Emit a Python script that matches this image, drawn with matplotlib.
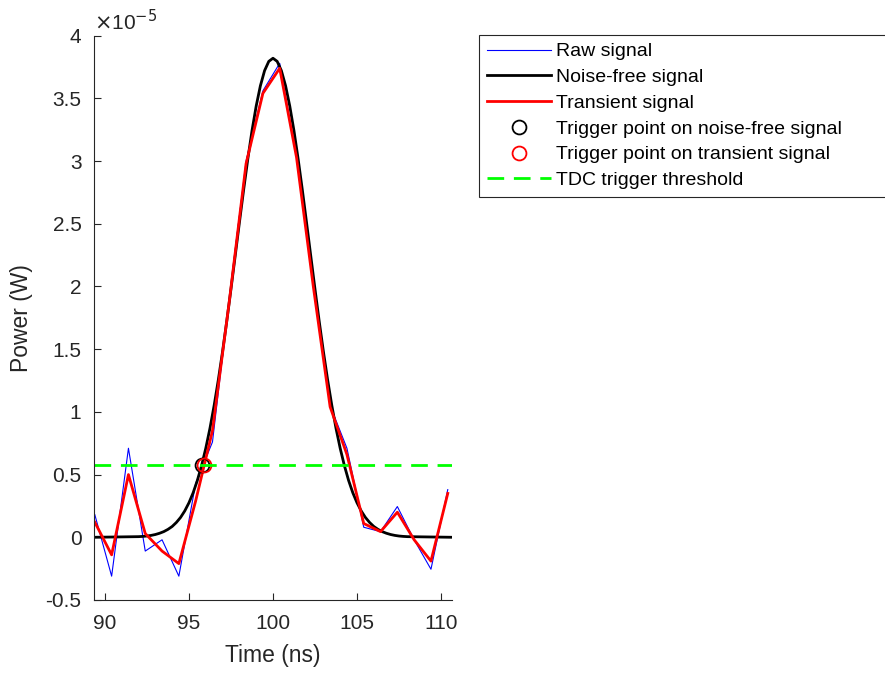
import numpy as np
import matplotlib.pyplot as plt
from matplotlib.ticker import FormatStrFormatter

plt.rcParams['font.family'] = ['Liberation Sans', 'DejaVu Sans']
plt.rcParams['axes.unicode_minus'] = False

# sampled pulse, power in units of 1e-5 W
sample_t = np.arange(89.4, 110.45, 1.0)
raw_signal = [0.18, -0.31, 0.71, -0.11, -0.02, -0.31, 0.43, 0.76, 1.90, 3.00, 3.56,
              3.78, 3.03, 2.00, 1.05, 0.71, 0.08, 0.045, 0.245, -0.02, -0.255, 0.38]
transient_signal = [0.12, -0.14, 0.50, 0.03, -0.11, -0.21, 0.29, 0.85, 1.88, 2.98, 3.54,
                    3.74, 3.03, 2.00, 1.04, 0.66, 0.11, 0.045, 0.20, -0.02, -0.19, 0.35]

# reference pulse on a finer grid
clean_t = np.concatenate([[89.35], np.arange(92.0, 108.01, 0.25), [110.65]])
clean_signal = [0.0,
                0.005, 0.007, 0.010, 0.015, 0.022, 0.032, 0.045, 0.063,
                0.086, 0.118, 0.158, 0.210, 0.275, 0.355, 0.453, 0.571,
                0.709, 0.869, 1.052, 1.257, 1.481, 1.723, 1.979, 2.242,
                2.507, 2.767, 3.014, 3.241, 3.438, 3.600, 3.721, 3.795,
                3.820,
                3.795, 3.721, 3.600, 3.438, 3.241, 3.014, 2.767, 2.507,
                2.242, 1.979, 1.723, 1.481, 1.257, 1.052, 0.869, 0.709,
                0.571, 0.453, 0.355, 0.275, 0.210, 0.158, 0.118, 0.086,
                0.063, 0.045, 0.032, 0.022, 0.015, 0.010, 0.007, 0.005,
                0.0]

threshold = 0.577
trigger_clean_t = 95.80
trigger_transient_t = 95.91

x_ticks = [90, 95, 100, 105, 110]
y_ticks = [-0.5, 0, 0.5, 1, 1.5, 2, 2.5, 3, 3.5, 4]

fig = plt.figure(figsize=(8.85, 6.73), dpi=100)
ax = fig.add_axes([0.1062, 0.1085, 0.4045, 0.8385])

ax.plot(sample_t, raw_signal, color='#0000ff', lw=0.8, label='Raw signal')
ax.plot(clean_t, clean_signal, color='black', lw=2.0, label='Noise-free signal')
ax.plot(sample_t, transient_signal, color='#ff0000', lw=2.0, label='Transient signal')
ax.plot([trigger_clean_t], [threshold], 'o', mfc='none', mec='black', ms=10, mew=1.3,
        label='Trigger point on noise-free signal')
ax.plot([trigger_transient_t], [threshold], 'o', mfc='none', mec='#ff0000', ms=10, mew=1.3,
        label='Trigger point on transient signal')
ax.axhline(threshold, color='#00ff00', lw=2.0, ls=(0, (6, 3.5)), label='TDC trigger threshold')

ax.set_xlim(89.35, 110.65)
ax.set_ylim(-0.5, 4)
ax.set_xticks(x_ticks)
ax.set_yticks(y_ticks)
ax.yaxis.set_major_formatter(FormatStrFormatter('%g'))

for side in ['top', 'right']:
    ax.spines[side].set_visible(False)
for side in ['left', 'bottom']:
    ax.spines[side].set_color('#262626')
    ax.spines[side].set_linewidth(0.8)
ax.tick_params(direction='in', length=5, width=0.8, color='#262626',
               labelcolor='#262626', labelsize=15)
ax.tick_params(axis='x', pad=10)
ax.tick_params(axis='y', pad=9)

ax.set_xlabel('Time (ns)', fontsize=16.5, color='#262626', labelpad=8)
ax.set_ylabel('Power (W)', fontsize=16.5, color='#262626', labelpad=9)
ax.text(0.0, 1.002, r'$\times$10$^{-5}$', transform=ax.transAxes, fontsize=15,
        color='#262626', ha='left', va='bottom')

leg = fig.legend(loc='upper left', bbox_to_anchor=(0.541, 0.71, 0.48, 0.238), mode='expand',
                 fontsize=14, frameon=True, fancybox=False, framealpha=1,
                 edgecolor='#262626', handlelength=3.3, handletextpad=0.25,
                 labelspacing=0.42, borderpad=0.4, borderaxespad=0)
leg.get_frame().set_linewidth(0.8)

fig.savefig('out.png', dpi=100)
